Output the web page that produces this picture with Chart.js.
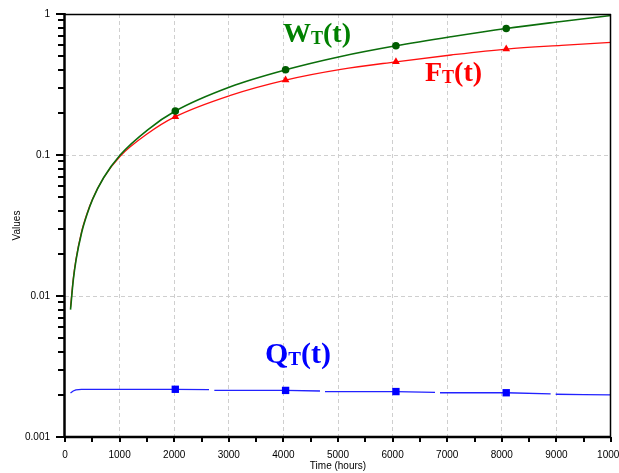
<!DOCTYPE html>
<html>
<head>
<meta charset="utf-8">
<script src="https://cdn.jsdelivr.net/npm/chart.js@4/dist/chart.umd.min.js"></script>
<style>
html,body{margin:0;padding:0;background:#fff;}
#wrap{width:619px;height:473px;position:relative;}
</style>
</head>
<body>
<div id="wrap"><canvas id="c" width="619" height="473"></canvas></div>
<script>
// ---- data ----
const times = [101, 152, 202, 303, 404, 505, 707, 1010, 1515, 2020, 3030, 4040, 5051, 6061, 7071, 8081, 9091, 10000];
const wValues = [0.0080, 0.0130, 0.0180, 0.0280, 0.0380, 0.0485, 0.0690, 0.100, 0.151, 0.205, 0.305, 0.402, 0.500, 0.595, 0.690, 0.790, 0.885, 0.975];
const fValues = [0.0083, 0.0133, 0.0183, 0.0285, 0.0385, 0.0488, 0.0690, 0.098, 0.142, 0.187, 0.265, 0.340, 0.405, 0.458, 0.512, 0.564, 0.600, 0.630];
const qTimes = [101, 150, 200, 300, 1010, 2020, 2637, 2690, 2735, 3030, 4040, 4670, 4715, 4762, 5051, 6061, 6777, 6820, 6868, 7071, 8081, 8895, 8940, 8987, 9500, 10000];
const qValues = [0.00205, 0.00212, 0.00216, 0.00218, 0.00218, 0.00218, 0.00217, null, 0.00214, 0.00214, 0.00214, 0.00212, null, 0.00210, 0.00210, 0.00210, 0.00207, null, 0.00206, 0.00206, 0.00206, 0.00202, null, 0.00201, 0.00200, 0.00199];
const markerTimes = [2020, 4040, 6061, 8081];
const seriesNames = ['W', 'F', 'Q'];
const xTickValues = [0, 1000, 2000, 3000, 4000, 5000, 6000, 7000, 8000, 9000, 10000];
const xTickLabels = ['0', '1000', '2000', '3000', '4000', '5000', '6000', '7000', '8000', '9000', '10000'];
const yTickValues = [0.001, 0.01, 0.1, 1];
const yTickLabels = ['0.001', '0.01', '0.1', '1'];
const xTitle = 'Time (hours)';
const yTitle = 'Values';

const pts = (xs, ys) => xs.map((x, i) => ({x: x, y: ys[i]}));
const markerRadius = r => ctx => (ctx.raw && markerTimes.includes(ctx.raw.x)) ? r : 0;

// labels for the curves
const curveLabels = [
  {name: seriesNames[0], x: 283, y: 42, size: 28, sub: 18, color: '#008000'},
  {name: seriesNames[1], x: 425, y: 81, size: 28, sub: 18, color: '#ff0000'},
  {name: seriesNames[2], x: 265, y: 363, size: 30, sub: 19, color: '#0000ff'}
];

const axesPlugin = {
  id: 'axesPlugin',
  afterDraw(chart) {
    const c = chart.ctx, a = chart.chartArea;
    const xs = chart.scales.x, ys = chart.scales.y;
    c.save();
    c.strokeStyle = '#000';
    // frame
    c.lineWidth = 1.5;
    c.beginPath();
    c.moveTo(a.left, a.top + 0.5); c.lineTo(a.right, a.top + 0.5);
    c.moveTo(a.right - 0.5, a.top); c.lineTo(a.right - 0.5, a.bottom);
    c.stroke();
    c.lineWidth = 2.5;
    c.beginPath();
    c.moveTo(a.left - 0.5, a.top - 1); c.lineTo(a.left - 0.5, a.bottom + 1);
    c.moveTo(a.left - 1, a.bottom); c.lineTo(a.right, a.bottom);
    c.stroke();
    // y ticks (major + minor)
    c.lineWidth = 2;
    c.beginPath();
    for (let e = -3; e <= 0; e++) {
      for (let m = 1; m <= 9; m++) {
        const v = m * Math.pow(10, e);
        if (v > 1.0001) break;
        const py = Math.round(ys.getPixelForValue(v));
        const len = (m === 1) ? 8 : 6;
        c.moveTo(a.left - 1 - len, py); c.lineTo(a.left, py);
      }
    }
    // x ticks every 500
    for (let t = 0; t <= 10000; t += 500) {
      const px = Math.round(xs.getPixelForValue(t));
      c.moveTo(px, a.bottom); c.lineTo(px, a.bottom + 5);
    }
    c.stroke();
    // curve labels
    c.textBaseline = 'alphabetic';
    c.textAlign = 'left';
    curveLabels.forEach(l => {
      c.fillStyle = l.color;
      let x = l.x;
      c.font = 'bold ' + l.size + 'px "Liberation Serif", "Times New Roman", serif';
      c.fillText(l.name, x, l.y);
      x += c.measureText(l.name).width;
      c.font = 'bold ' + l.sub + 'px "Liberation Serif", "Times New Roman", serif';
      c.fillText('T', x, l.y + 2);
      x += c.measureText('T').width;
      c.font = 'bold ' + l.size + 'px "Liberation Serif", "Times New Roman", serif';
      c.fillText('(t)', x, l.y);
    });
    c.restore();
  }
};

new Chart(document.getElementById('c'), {
  type: 'line',
  data: {
    datasets: [
      {
        label: seriesNames[0], data: pts(times, wValues),
        borderColor: '#0b6e0b', backgroundColor: '#005c00', borderWidth: 1.6,
        pointStyle: 'circle', pointRadius: markerRadius(3.8), pointHoverRadius: 0,
        pointBorderWidth: 0, cubicInterpolationMode: 'monotone'
      },
      {
        label: seriesNames[1], data: pts(times, fValues),
        borderColor: '#ff1010', backgroundColor: '#ff0000', borderWidth: 1.3,
        pointStyle: 'triangle', pointRadius: markerRadius(4.5), pointHoverRadius: 0,
        pointBorderWidth: 0, cubicInterpolationMode: 'monotone'
      },
      {
        label: seriesNames[2], data: pts(qTimes, qValues),
        borderColor: '#2222ff', backgroundColor: '#0000ff', borderWidth: 1.3,
        pointStyle: 'rect', pointRadius: markerRadius(5.2), pointHoverRadius: 0,
        pointBorderWidth: 0, spanGaps: false, tension: 0
      }
    ]
  },
  options: {
    responsive: false,
    animation: false,
    events: [],
    layout: {padding: {top: 14, right: 8, left: 0, bottom: 0}},
    plugins: {legend: {display: false}, tooltip: {enabled: false}},
    scales: {
      x: {
        type: 'linear', min: 0, max: 10000,
        afterBuildTicks: s => { s.ticks = xTickValues.map(v => ({value: v})); },
        afterFit: s => { s.height = 36; s.paddingLeft = 0; s.paddingRight = 0; },
        ticks: {
          autoSkip: false, maxRotation: 0, padding: 12, color: '#000',
          font: {family: '"Liberation Sans", Arial, sans-serif', size: 10},
          callback: (v, i) => xTickLabels[i]
        },
        grid: {
          drawTicks: false, lineWidth: 1,
          color: ctx => (ctx.tick && ctx.tick.value > 0 && ctx.tick.value < 10000) ? '#cfcfcf' : 'rgba(0,0,0,0)'
        },
        border: {display: false, dash: [4, 3]},
        title: {display: true, text: xTitle, color: '#000', padding: {top: 0, bottom: 1},
          font: {family: '"Liberation Sans", Arial, sans-serif', size: 10}}
      },
      y: {
        type: 'logarithmic', min: 0.001, max: 1,
        afterBuildTicks: s => { s.ticks = yTickValues.map(v => ({value: v})); },
        afterFit: s => { s.width = 65; s.paddingTop = 0; s.paddingBottom = 0; },
        ticks: {
          autoSkip: false, padding: 15, color: '#000',
          font: {family: '"Liberation Sans", Arial, sans-serif', size: 10},
          callback: (v, i) => yTickLabels[i]
        },
        grid: {
          drawTicks: false, lineWidth: 1,
          color: ctx => (ctx.tick && ctx.tick.value > 0.0015 && ctx.tick.value < 0.5) ? '#cfcfcf' : 'rgba(0,0,0,0)'
        },
        border: {display: false, dash: [4, 3]},
        title: {display: true, text: yTitle, color: '#000', padding: {top: 11, bottom: 0},
          font: {family: '"Liberation Sans", Arial, sans-serif', size: 10}}
      }
    }
  },
  plugins: [axesPlugin]
});
</script>
</body>
</html>
